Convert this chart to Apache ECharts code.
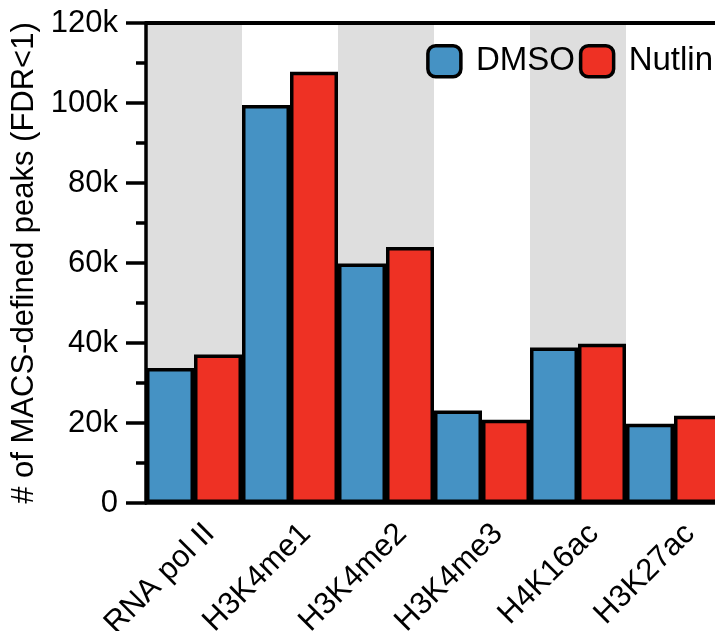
<!DOCTYPE html>
<html><head><meta charset="utf-8">
<script src="https://cdn.jsdelivr.net/npm/echarts@6/dist/echarts.min.js"></script>
<style>html,body{margin:0;padding:0;background:#fff;overflow:hidden}#c{width:715px;height:631px}</style>
</head><body><div id="c"></div>
<script>
const categories = ['RNA pol II','H3K4me1','H3K4me2','H3K4me3','H4K16ac','H3K27ac'];
const dmso = [33750, 99500, 59900, 23100, 38900, 19800];
const nutlin = [37100, 107800, 64000, 20800, 39800, 21800];
const yTicks = [0, 20000, 40000, 60000, 80000, 100000, 120000];

const FONT = 'Liberation Sans, Arial, Helvetica, sans-serif';
const chart = echarts.init(document.getElementById('c'));
const barBorder = {borderColor:'#000', borderWidth:3.5};
chart.setOption({
  animation:false,
  textStyle:{fontFamily:FONT, color:'#000'},
  grid:{left:146, width:576, top:23, height:480, outerBoundsMode:'none', containLabel:false},
  legend:{
    right:-3, top:39, itemWidth:33, itemHeight:31, itemGap:4,
    icon:'roundRect',
    textStyle:{fontSize:33, color:'#000', fontFamily:FONT, padding:[0,0,0,10]},
    itemStyle:{borderColor:'#000', borderWidth:3.5},
    data:['DMSO','Nutlin']
  },
  xAxis:[{
    type:'category', data:categories,
    axisLine:{lineStyle:{color:'#000', width:3.5}},
    axisTick:{show:false},
    axisLabel:{rotate:45, fontSize:31, color:'#000', margin:10, fontFamily:FONT,
      verticalAlign:'top', padding:[7,0,0,0]},
    splitArea:{show:true, areaStyle:{color:['#dedede','rgba(255,255,255,0)']}}
  },{
    type:'category', data:categories, position:'top',
    axisLine:{lineStyle:{color:'#000', width:4}},
    axisTick:{show:false}, axisLabel:{show:false}
  }],
  yAxis:{
    type:'value', min:yTicks[0], max:yTicks[yTicks.length-1], interval:20000,
    name:'# of MACS-defined peaks (FDR<1)', nameLocation:'middle', nameGap:106,
    nameTextStyle:{fontSize:31, color:'#000', fontFamily:FONT},
    axisLine:{show:true, lineStyle:{color:'#000', width:3.5}},
    axisTick:{show:true, length:20, lineStyle:{color:'#000', width:3.5}},
    minorTick:{show:true, splitNumber:2, length:10, lineStyle:{color:'#000', width:3.5}},
    splitLine:{show:false},
    axisLabel:{fontSize:31, color:'#000', margin:28, fontFamily:FONT,
      formatter:v => v === 0 ? '0' : (v/1000) + 'k'}
  },
  series:[
    {name:'DMSO', type:'bar', data:dmso, barGap:'0%', barCategoryGap:'0%',
     itemStyle:Object.assign({color:'#4592c4'}, barBorder)},
    {name:'Nutlin', type:'bar', data:nutlin, barGap:'0%', barCategoryGap:'0%',
     itemStyle:Object.assign({color:'#ee3124'}, barBorder)}
  ]
});
</script></body></html>
